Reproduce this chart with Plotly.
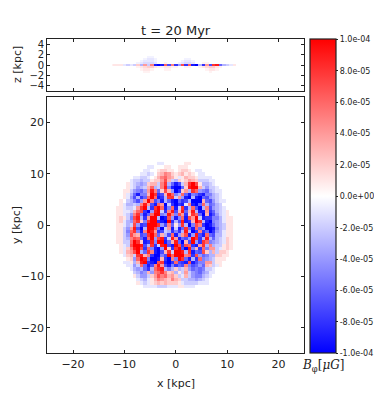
import numpy as np
import plotly.graph_objects as go

W, H = 374, 393
SCALE = 1e-5
x_grid = np.linspace(-12, 12, 37)
y_grid = np.linspace(12, -12, 37)
z_grid = [2.0, 1.6, 1.2, 0.8, 0.4, 0.0, -0.4, -0.8, -1.2, -1.6, -2.0]

face_on = [
[0,0,0,0,0,0,0,0,0, 0,0,0,0,-1,-1,0,0,0, 0, 0,0,1,1,0,0,0,0,0, 0,0,0,0,0,0,0,0,0],
[0,0,0,0,0,0,0,0,0, 0,-1,-1,0,0,0,1,1,0, 0, 1,1,1,0,0,0,0,0,0, 0,0,0,0,0,0,0,0,0],
[0,0,0,0,0,0,0,0,0, -1,-1,0,0,1,2,2,1,1, 0, 1,2,2,1,0,-1,-1,0,0, 0,0,0,0,0,0,0,0,0],
[0,0,0,0,0,0,0,0,-1, -1,-2,-1,0,2,3,5,4,2, 1, 2,3,1,2,1,0,-1,-1,0, 0,0,0,0,0,0,0,0,0],
[0,0,0,0,0,0,-1,-1,-2, -2,-1,0,1,3,5,6,4,3, 1, -1,1,3,2,2,1,-1,-1,-1, -1,0,0,0,0,0,0,0,0],
[0,0,0,0,0,-1,-2,-2,-3, -2,-2,1,2,2,4,7,3,-2, -3, 2,1,2,4,3,2,-2,-2,-2, -1,-1,0,0,0,0,0,0,0],
[0,0,0,0,1,-1,-2,-3,-4, -3,2,3,3,-2,5,8,-3,-6, -9,-7,-2,3,8,10,7,1,-3,-3, -2,-1,0,0,0,0,0,0,0],
[0,0,0,0,1,-1,-2,-4,-3, -2,3,6,-3,-2,5,9,-5,-9, -10,-10,-6,2,9,10,10,3,-2,-4, -2,-2,-1,0,0,0,0,0,0],
[0,0,0,1,1,-2,-4,-5,-6, -4,4,9,5,-6,2,7,3,-4, -10,-8,2,4,-3,8,6,-4,-5,-6, -3,-2,-1,-1,0,0,0,0,0],
[0,0,0,1,-1,-3,-6,-9,-5, -5,3,10,8,-8,-7,3,9,6, -5,-3,6,-6,-9,-5,-6,-8,-9,-5, -5,-3,-2,-1,0,0,0,0,0],
[0,0,0,1,-1,-4,-7,-3,-8, -6,6,10,6,-9,-8,-3,8,8, -2,4,-4,-9,-10,-3,-9,-10,-6,-7, -4,-3,-2,-1,0,0,0,0,0],
[0,0,1,0,-2,-3,-5,-7,-4, 4,10,5,-7,-5,-9,-3,-6,-9, -10,-6,-8,-7,-3,-10,-10,-10,3,-6, -7,-4,-2,-1,-1,0,0,0,0],
[0,0,1,-1,-3,-3,-2,-3,5, 9,4,-7,-9,6,4,-10,-2,-8, -10,-8,-9,-1,5,-9,-10,-6,6,-3, -6,-5,-3,-2,0,0,0,0,0],
[0,1,1,-1,-2,-2,-1,4,8, 10,-3,-8,8,10,6,-9,-5,6, -9,-2,8,-8,-3,6,-7,-10,-3,5, -7,-4,-3,-2,-1,0,0,0,0],
[0,1,1,-1,-1,-2,3,6,7, -8,-10,-4,9,10,-2,-8,5,9, -7,3,9,-6,3,9,-3,-9,-9,4, -8,-6,-3,-2,-1,1,0,0,0],
[0,1,1,-1,-2,-4,5,8,-5, -9,-6,6,10,10,-5,-4,9,5, -5,7,4,-8,2,8,6,-6,-10,3, -9,-7,-4,-2,-1,1,0,0,0],
[0,1,2,1,-2,-5,7,9,-3, -8,4,10,10,-3,-10,-9,7,-4, -9,-5,6,-9,7,4,10,-2,-9,-8, -8,-5,-5,-3,-1,1,1,0,0],
[0,1,2,-1,-3,-4,6,8,2, -5,8,10,10,-8,-9,-10,10,-8, -3,-7,9,-9,-8,3,10,8,-3,-9, -10,-5,-4,-3,-1,1,1,0,0],
[0,1,1,-1,-3,-2,7,-4,-8, -7,10,10,10,8,-4,-7,5,-6, 1,-4,8,-3,-10,-5,7,5,-8,-10, -9,-6,-4,-3,-2,1,1,0,0],
[0,1,1,-2,-4,4,9,-7,-10, -3,10,10,7,-5,-10,-2,4,-9, -2,-9,-6,8,-6,-9,6,-6,-4,-10, -10,-9,-5,-3,-2,1,1,0,0],
[0,1,1,-2,-5,6,8,-5,-9, 5,10,9,4,-8,-7,-2,-3,-8, -5,-8,-3,9,-3,-10,-8,5,-8,-6, -10,-8,-4,-3,-1,1,1,0,0],
[0,1,1,-2,-4,7,4,3,-7, -6,8,10,6,-6,3,-3,-7,6, -9,-4,4,7,-9,-4,9,-7,-9,6, -6,-7,-3,-3,-1,1,1,0,0],
[0,1,1,-2,-3,5,7,6,-6, -9,6,10,-4,7,9,-8,-2,9, 4,-9,-6,-7,-4,10,8,-8,-3,9, -3,-6,-3,-2,-1,2,1,0,0],
[0,1,1,-2,-2,6,10,8,2, -9,-8,9,-5,10,10,-9,-6,3, 9,-6,-10,3,-7,10,-4,-8,8,6, -5,-4,-3,-2,-1,2,1,0,0],
[0,0,1,-1,-2,7,10,10,9, -7,-3,8,-8,-2,9,10,-7,-9, 10,7,-8,7,6,-8,-9,4,8,-3, 5,-3,-2,-2,1,2,1,0,0],
[0,0,1,-1,2,5,9,10,7, -8,6,-5,-9,-10,-4,10,2,-8, 8,10,-7,-10,9,-5,3,-8,6,-5, 4,4,-2,-1,1,2,1,0,0],
[0,0,1,-1,3,4,7,10,-3, -6,8,5,-9,-10,-7,3,8,-2, 10,10,9,-3,8,-9,-6,-7,7,2, -3,3,-2,2,2,1,0,0,0],
[0,0,0,-1,2,3,-2,8,9, 3,5,-8,-10,-10,-5,-7,10,6, 10,10,10,5,6,-8,7,-4,-6,-5, -3,-3,2,2,1,1,0,0,0],
[0,0,0,0,1,2,-4,6,10, 9,-5,-10,-10,-9,3,-8,-10,5, -5,10,8,-6,-9,-3,-8,6,-5,-4, -3,-2,1,1,1,0,0,0,0],
[0,0,0,-1,-1,1,-3,3,9, 10,-8,-9,-10,7,8,-9,-10,-8, 6,-7,-8,-9,7,-9,-7,-5,-5,4, 4,-2,1,1,0,0,0,0,0],
[0,0,0,0,-1,-1,-4,-2,6, -6,-9,-7,5,9,4,-7,-9,-5, -8,-6,-7,5,-5,-7,-6,-4,-6,3, 2,-2,-1,1,0,0,0,0,0],
[0,0,0,0,0,-1,-3,-4,-3, -6,-8,-3,6,8,9,-3,-5,-3, 2,-3,-2,3,-4,-6,-5,-6,-5,-2, -2,-1,0,0,0,0,0,0,0],
[0,0,0,0,0,0,-2,-3,-5, -4,3,-4,5,6,8,5,2,3, -3,1,-2,4,-2,-4,-5,-6,-4,-3, -1,-1,0,0,0,0,0,0,0],
[0,0,0,0,0,0,1,-2,-4, -4,-2,2,4,7,5,6,3,4, 2,-2,-1,3,-2,-4,-5,-5,-3,-2, -1,0,0,0,0,0,0,0,0],
[0,0,0,0,0,0,0,-1,-2, -3,-1,1,3,5,4,3,2,5, 3,2,-2,-2,-3,-3,-4,-3,-2,-1, 0,0,0,0,0,0,0,0,0],
[0,0,0,0,0,0,0,1,-1, -2,-1,1,2,3,2,3,2,2, 2,1,-1,-2,-2,-2,-2,-1,-1,-1, 0,0,0,0,0,0,0,0,0],
[0,0,0,0,0,0,0,0,0, -1,-1,-1,-1,-2,-2,-2,-1,-1, -1,1,1,-1,-1,-1,0,0,0,0, 0,0,0,0,0,0,0,0,0],
]

edge_on = [
[0]*37,
[0,0,0,0,0,0,0,0,0, 0,-0.5,-0.5,0,0,0,0,0,0, 0, 0,0,0,0,0,0,0,0,0, 0,0,0,0,0,0,0,0,0],
[0,0,0,0,0,0,0,0,0, -0.5,-1,-1,-0.5,0,0,0,0,0, 0, 0,0,-0.5,-0.5,0,0,0,0,0, 0,0,0,0,0,0,0,0,0],
[0,0,0,0,0,0,0,0,-0.5, -1,-1,-1,-0.5,0,0,0,0,0, 0, 0,-0.5,-1,-1,-0.5,0,0,0,0, 0,0,0,0,0,0,0,0,0],
[0,0,0,0,0,0,0,-0.5,-1, -1.5,-1.5,-1.5,-1,0,0,0.5,0,0, 0, -0.5,-1,-1.5,-1.5,-1,0,0,0.5,0.5, 0,0,0,0,0,0,0,0,0],
[1,1,1,-1,-2,-1,-2,2,-3, 4,-2,5,-9,-10,-9,6,-7,5, -8, -4,7,-8,6,-9,-10,-3,-8,4, -7,8,9,-6,-3,-2,-1,1,0],
[0,0,0,0,0,0,0,0.5,1, 1.5,2,2,1,0.5,0.5,1,1,0.5, 0.5, 0,0,0.5,0.5,0,0,0.5,1,1.5, 2,2,1,0.5,0,0,0,0,0],
[0,0,0,0,0,0,0,0,0.5, 1,1,0.5,0,0,0,0.5,0.5,0, 0, 0,0,0,0,0,0,0,0,0.5, 1,1,0.5,0,0,0,0,0,0],
[0,0,0,0,0,0,0,0,0, 0.5,0.5,0,0,0,0,0,0,0, 0, 0,0,0,0,0,0,0,0,0, 0.5,0,0,0,0,0,0,0,0],
[0]*37,
[0]*37,
]

cbar_vals = [1e-4, 8e-5, 6e-5, 4e-5, 2e-5, 0, -2e-5, -4e-5, -6e-5, -8e-5, -1e-4]
cbar_text = ["1.0e-04", "8.0e-05", "6.0e-05", "4.0e-05", "2.0e-05", "0.0e+00",
             "-2.0e-05", "-4.0e-05", "-6.0e-05", "-8.0e-05", "-1.0e-04"]

FONT = "DejaVu Sans"
INK = "#222222"

fig = go.Figure()
fig.add_trace(go.Heatmap(x=x_grid, y=z_grid, z=np.array(edge_on) * SCALE,
                         coloraxis="coloraxis", xaxis="x2", yaxis="y2", hoverinfo="skip"))
fig.add_trace(go.Heatmap(x=x_grid, y=y_grid, z=np.array(face_on) * SCALE,
                         coloraxis="coloraxis", xaxis="x", yaxis="y", hoverinfo="skip"))

common = dict(showgrid=False, zeroline=False, showline=True, linecolor=INK, linewidth=1.2,
              mirror="allticks", ticks="inside", ticklen=3, tickwidth=1, tickcolor=INK,
              tickfont=dict(family=FONT, size=11, color=INK))

L, R = 47.3 / W, 304.3 / W
fig.update_layout(
    width=W, height=H, margin=dict(l=0, r=0, t=0, b=0, autoexpand=False),
    paper_bgcolor="white", plot_bgcolor="white", showlegend=False,
    xaxis=dict(domain=[L, R], range=[-25, 25], tick0=-20, dtick=10, anchor="y", **common),
    yaxis=dict(domain=[1 - 353.3 / H, 1 - 97 / H], range=[-25, 25], tick0=-20, dtick=10, anchor="x", **common),
    xaxis2=dict(domain=[L, R], range=[-25, 25], tick0=-20, dtick=10, showticklabels=False, anchor="y2", **common),
    yaxis2=dict(domain=[1 - 91 / H, 1 - 39.3 / H], range=[-5, 5], tick0=-4, dtick=2, anchor="x2", **common),
    coloraxis=dict(
        cmin=-1e-4, cmax=1e-4,
        colorscale=[[0, "#0000ff"], [0.5, "#ffffff"], [1, "#ff0000"]],
        colorbar=dict(x=310 / W, xanchor="left", xpad=0, y=1 - 39.3 / H, yanchor="top", ypad=0,
                      lenmode="pixels", len=314, thicknessmode="pixels", thickness=26,
                      outlinecolor=INK, outlinewidth=1.2,
                      tickmode="array", tickvals=cbar_vals, ticktext=cbar_text,
                      ticks="outside", ticklen=2, tickwidth=1, tickcolor=INK,
                      tickfont=dict(family=FONT, size=8, color=INK)),
    ),
    annotations=[
        dict(text="t = 20 Myr", x=175.5 / W, y=1 - 31 / H, xref="paper", yref="paper", showarrow=False,
             xanchor="center", yanchor="middle", font=dict(family=FONT, size=13, color=INK)),
        dict(text="x [kpc]", x=175.5 / W, y=1 - 383 / H, xref="paper", yref="paper", showarrow=False,
             xanchor="center", yanchor="middle", font=dict(family=FONT, size=11, color=INK)),
        dict(text="y [kpc]", x=17 / W, y=1 - 225 / H, xref="paper", yref="paper", showarrow=False, textangle=-90,
             xanchor="center", yanchor="middle", font=dict(family=FONT, size=11, color=INK)),
        dict(text="z [kpc]", x=18 / W, y=1 - 65 / H, xref="paper", yref="paper", showarrow=False, textangle=-90,
             xanchor="center", yanchor="middle", font=dict(family=FONT, size=11, color=INK)),
        dict(text="<i>B</i><sub>φ</sub>[<i>μG</i>]", x=323 / W, y=1 - 366 / H, xref="paper", yref="paper",
             showarrow=False, xanchor="center", yanchor="middle",
             font=dict(family="DejaVu Serif", size=12, color=INK)),
    ],
)
fig.layout.yaxis2.tickfont.size = 10

fig.write_html("out.html", config=dict(displayModeBar=False),
               post_script="document.body.style.margin='0';document.body.style.overflow='hidden';")
